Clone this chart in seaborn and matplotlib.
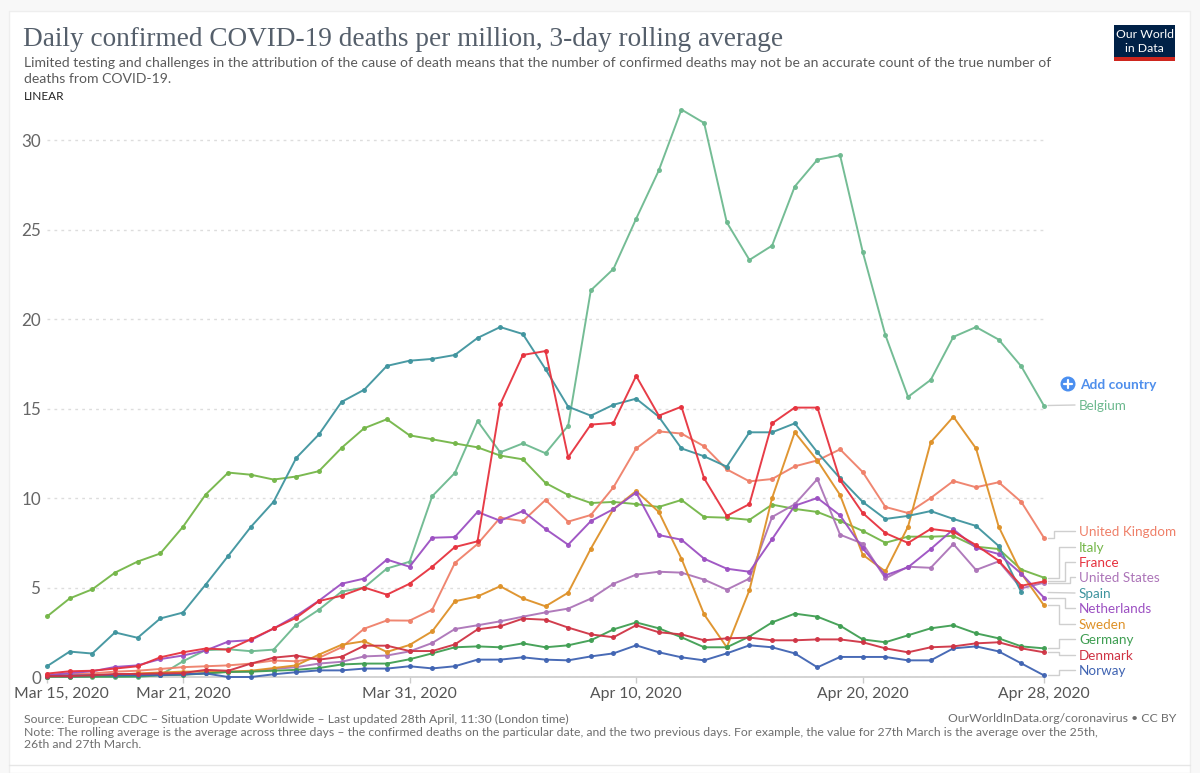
import numpy as np
import pandas as pd
import matplotlib
matplotlib.use("Agg")
import matplotlib.pyplot as plt
from matplotlib.lines import Line2D
from matplotlib.patches import Rectangle, Circle
from matplotlib.transforms import ScaledTranslation
import seaborn as sns

dates = pd.date_range("2020-03-15", "2020-04-28")

belgium = [0,0,0,0,0,0.1,0.88,1.5,1.55,1.44,1.53,2.93,3.76,4.77,5.0,6.06,6.44,10.1,11.4,14.3,12.55,13.05,12.5,14.04,21.6,22.8,25.6,28.3,31.7,30.95,25.4,23.3,24.1,27.4,28.9,29.15,23.75,19.1,15.65,16.6,19.0,19.55,18.85,17.35,15.15]
italy = [3.38,4.39,4.9,5.83,6.45,6.9,8.39,10.19,11.42,11.3,11.03,11.2,11.5,12.8,13.9,14.4,13.5,13.28,13.05,12.83,12.37,12.16,10.84,10.17,9.72,9.78,9.66,9.5,9.89,8.94,8.9,8.78,9.63,9.39,9.22,8.72,8.16,7.5,7.84,7.84,7.88,7.28,7.15,6.0,5.55]
spain = [0.6,1.42,1.31,2.49,2.19,3.27,3.6,5.16,6.77,8.39,9.79,12.24,13.55,15.37,16.05,17.38,17.67,17.77,17.99,18.94,19.55,19.16,17.2,15.1,14.6,15.21,15.55,14.54,12.77,12.33,11.75,13.67,13.67,14.17,12.55,11.1,9.78,8.83,9.0,9.27,8.83,8.44,7.32,4.73,np.nan]
france = [0.19,0.32,0.35,0.47,0.6,1.1,1.38,1.59,1.53,2.11,2.71,3.31,4.24,4.54,5.0,4.6,5.21,6.16,7.26,7.58,15.23,17.99,18.21,12.27,14.1,14.2,16.82,14.6,15.1,11.1,9.0,9.66,14.17,15.05,15.05,11.0,9.16,8.04,7.49,8.27,8.12,7.37,6.5,5.1,5.34]
netherlands = [0.1,0.22,0.32,0.56,0.65,1.0,1.2,1.48,1.98,2.06,2.71,3.42,4.26,5.21,5.5,6.56,6.16,7.78,7.82,9.22,8.73,9.27,8.27,7.39,8.71,9.38,10.3,7.93,7.67,6.61,6.05,5.88,7.7,9.57,10.0,9.03,7.19,5.68,6.13,7.15,8.25,7.22,6.87,5.77,4.43]
uk = [0.1,0.15,0.2,0.3,0.35,0.45,0.55,0.6,0.65,0.75,0.92,0.88,1.07,1.66,2.7,3.16,3.15,3.76,6.37,7.43,8.9,8.71,9.89,8.68,9.05,10.6,12.77,13.72,13.6,12.89,11.6,10.93,11.06,11.77,12.1,12.72,11.45,9.5,9.16,10.0,10.95,10.6,10.88,9.78,7.77]
sweden = [0.03,0.05,0.08,0.1,0.2,0.25,0.3,0.3,0.3,0.35,0.5,0.65,1.25,1.8,2.0,1.4,1.79,2.55,4.23,4.5,5.07,4.39,3.95,4.71,7.17,9.38,10.39,9.22,6.61,3.5,1.66,4.85,10.0,13.67,12.09,10.17,6.83,5.9,8.4,13.11,14.54,12.77,8.4,5.79,4.0]
us = [0.02,0.03,0.05,0.07,0.1,0.12,0.15,0.2,0.3,0.3,0.45,0.55,0.75,0.85,1.15,1.2,1.43,1.9,2.68,2.89,3.11,3.37,3.61,3.82,4.38,5.21,5.72,5.88,5.83,5.44,4.88,5.5,8.94,9.65,11.06,7.95,7.45,5.51,6.16,6.1,7.43,5.98,6.46,4.95,5.27]
denmark = [0.05,0.05,0.1,0.17,0.17,0.2,0.22,0.4,0.35,0.75,1.08,1.2,0.97,1.13,1.75,1.75,1.45,1.45,1.82,2.66,2.83,3.26,3.2,2.76,2.38,2.22,2.89,2.5,2.38,2.05,2.16,2.2,2.05,2.05,2.1,2.1,1.94,1.6,1.38,1.66,1.71,1.88,1.94,1.6,1.38]
germany = [0.02,0.02,0.03,0.03,0.05,0.1,0.12,0.2,0.28,0.3,0.35,0.4,0.5,0.7,0.75,0.75,0.99,1.32,1.66,1.71,1.66,1.88,1.66,1.77,2.05,2.66,3.05,2.72,2.22,1.66,1.66,2.26,3.05,3.54,3.37,2.87,2.1,1.94,2.33,2.72,2.89,2.44,2.16,1.71,1.6]
norway = [0.05,0.08,0.1,0.1,0.1,0.1,0.15,0.2,0,0,0.15,0.27,0.37,0.37,0.47,0.47,0.6,0.48,0.6,0.97,0.97,1.1,0.97,0.93,1.15,1.32,1.77,1.38,1.1,0.93,1.32,1.77,1.66,1.32,0.54,1.12,1.12,1.12,0.93,0.93,1.6,1.71,1.43,0.76,0.09]

countries = ["Belgium","Italy","United Kingdom","United States","Sweden","Spain","Netherlands","Germany","Norway","Denmark","France"]
series = [belgium,italy,uk,us,sweden,spain,netherlands,germany,norway,denmark,france]
colors = ["#6DB98F","#74B648","#EF8069","#AC74B8","#DE9128","#3F949E","#9C50C2","#3F9E52","#3F63B2","#CF3344","#E6323E"]

title = "Daily confirmed COVID-19 deaths per million, 3-day rolling average"
subtitle = ["Limited testing and challenges in the attribution of the cause of death means that the number of confirmed deaths may not be an accurate count of the true number of",
            "deaths from COVID-19."]
source = "Source: European CDC – Situation Update Worldwide – Last updated 28th April, 11:30 (London time)"
credit = "OurWorldInData.org/coronavirus • CC BY"
note = ["Note: The rolling average is the average across three days – the confirmed deaths on the particular date, and the two previous days. For example, the value for 27th March is the average over the 25th,",
        "26th and 27th March."]
tick_dates = ["2020-03-15","2020-03-21","2020-03-31","2020-04-10","2020-04-20","2020-04-28"]
tick_labels = ["Mar 15, 2020","Mar 21, 2020","Mar 31, 2020","Apr 10, 2020","Apr 20, 2020","Apr 28, 2020"]
y_ticks = [0,5,10,15,20,25,30]

W, H = 1200, 773
sns.set_theme(style="white")
plt.rcParams["font.family"] = ["Lato", "DejaVu Sans"]

fig = plt.figure(figsize=(12, 7.73), dpi=100, facecolor="#F8F8F8")
def X(p): return p / W
def Y(p): return 1 - p / H
def pt(px): return px * 0.72

fig.add_artist(Rectangle((X(9), 0), X(1190 - 9), (H - 11) / H, transform=fig.transFigure,
                         facecolor="white", edgecolor="#EEEEEE", lw=1, zorder=-5))
fig.add_artist(Line2D([X(9), X(1190)], [Y(765), Y(765)], color="#E6E6E6", lw=1, transform=fig.transFigure))

y0, y30 = 677, 140
ppu = (y0 - y30) / 30
top = 100
ax = fig.add_axes([X(47), Y(y0), X(1044 - 47), (y0 - top) / H])
ax.patch.set_alpha(0)

df = pd.DataFrame({"date": np.tile(dates, len(countries)),
                   "country": np.repeat(countries, len(dates)),
                   "value": np.concatenate(series)}).dropna()

sns.lineplot(data=df, x="date", y="value", hue="country", hue_order=countries,
             palette=dict(zip(countries, colors)), marker="o", markersize=3.6,
             markeredgewidth=0, linewidth=1.4, alpha=0.95, legend=False, errorbar=None,
             clip_on=False, ax=ax, zorder=3)

ax.set_xlim(dates[0], dates[-1])
ax.set_ylim(0, (y0 - top) / ppu)
ax.set_xlabel(""); ax.set_ylabel("")
ax.set_yticks(y_ticks)
ax.set_xticks(pd.to_datetime(tick_dates))
ax.set_xticklabels(tick_labels)
for s in ["top", "left", "right"]:
    ax.spines[s].set_visible(False)
ax.spines["bottom"].set_color("#CCCCCC")
ax.spines["bottom"].set_linewidth(1.2)
ax.yaxis.grid(True, color="#DDDDDD", linestyle=(0, (2, 3)), linewidth=1)
ax.xaxis.grid(False)
ax.set_axisbelow(True)
ax.tick_params(axis="y", length=0, pad=4, labelsize=pt(17), labelcolor="#666666")
ax.tick_params(axis="x", length=4, width=1, color="#CCCCCC", pad=3, labelsize=pt(15.8), labelcolor="#555555", bottom=True)
first = ax.get_xticklabels()[0]
first.set_transform(first.get_transform() + ScaledTranslation(10 / 72, 0, fig.dpi_scale_trans))

def T(x, y, s, size, color, **kw):
    kw.setdefault("va", "center")
    fig.text(X(x), Y(y), s, fontsize=pt(size), color=color, **kw)

T(23, 39, title, 27.25, "#555F6B", family=["Liberation Serif", "DejaVu Serif"])
T(24, 63, subtitle[0], 14.0, "#5B5B5B")
T(24, 79, subtitle[1], 14.0, "#5B5B5B")
T(24, 96, "LINEAR", 11.7, "#222222")
T(24, 719, source, 12.3, "#6E6E6E")
T(1176, 719, credit, 12.3, "#6E6E6E", ha="right")
T(24, 732, note[0], 12.25, "#6E6E6E")
T(24, 745, note[1], 12.25, "#6E6E6E")

# logo
fig.add_artist(Rectangle((X(1114), Y(61)), X(61), 36 / H, transform=fig.transFigure, facecolor="#002147", edgecolor="none"))
fig.add_artist(Rectangle((X(1114), Y(61)), X(61), 4 / H, transform=fig.transFigure, facecolor="#CE261E", edgecolor="none"))
T(1144.5, 35, "Our World", 12.3, "white", ha="center")
T(1144.5, 48, "in Data", 12.3, "white", ha="center")

# add country
ax_icon = fig.add_axes([0, 0, 1, 1], facecolor="none")
ax_icon.set_xlim(0, W); ax_icon.set_ylim(H, 0); ax_icon.axis("off")
ax_icon.add_patch(Circle((1068, 384), 7.5, color="#4B8FF0", lw=0))
ax_icon.plot([1064, 1072], [384, 384], color="white", lw=1.6)
ax_icon.plot([1068, 1068], [380, 388], color="white", lw=1.6)
T(1080, 385, "Add country", 13.8, "#4F8FEC", fontweight="bold")

# direct labels with connectors: name, label y, leader start y, elbow x
label_layout = [("Belgium", 405, 405.5, None), ("United Kingdom", 531, 538, 1054), ("Italy", 547, 578, 1059),
                ("France", 562, 581, 1065), ("United States", 577, 583, 1070), ("Spain", 593, 592.5, None),
                ("Netherlands", 608, 598, 1065), ("Sweden", 624, 605, 1059), ("Germany", 639, 648, 1059),
                ("Denmark", 655, 652, 1059), ("Norway", 670, 675, 1059)]
col = dict(zip(countries, colors))
for name, ly, sy, ex in label_layout:
    T(1079, ly + 1, name, 13.5, col[name])
    if ex is None:
        xs, ys = [1048, 1075], [sy, ly]
    else:
        xs, ys = [1048, ex, ex, 1075], [sy, sy, ly, ly]
    ax_icon.plot(xs, ys, color="#CFCFCF", lw=1)

fig.savefig("out.png", dpi=100, facecolor=fig.get_facecolor())
